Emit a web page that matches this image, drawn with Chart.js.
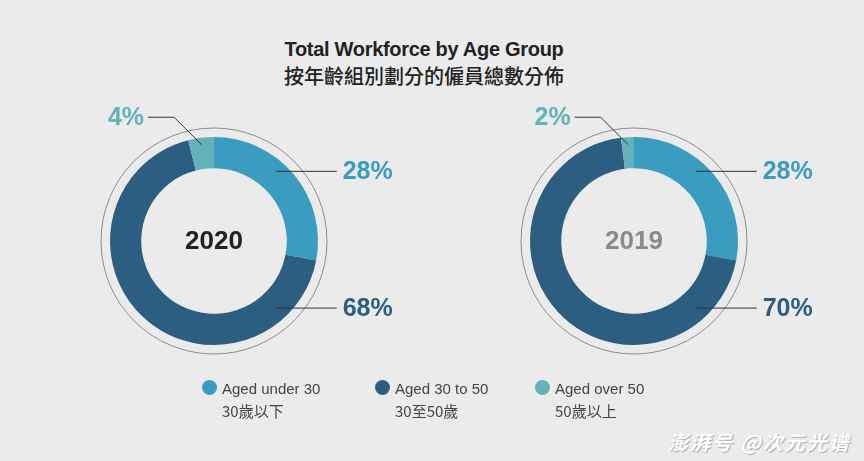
<!DOCTYPE html>
<html>
<head>
<meta charset="utf-8">
<script src="https://cdn.jsdelivr.net/npm/chart.js@4"></script>
<style>
  html, body { margin: 0; padding: 0; }
  body { width: 864px; height: 461px; background: #ebebeb; position: relative; overflow: hidden;
         font-family: "Liberation Sans", Arial, sans-serif; }
  .title { position: absolute; left: 0; width: 848px; text-align: center; color: #222; }
  #t1 { top: 38px; font-size: 20px; font-weight: bold; letter-spacing: -0.3px; }
  #t2 { top: 61px; font-size: 20px; font-family: "Noto Sans CJK TC", sans-serif; font-weight: 500; }
  canvas { position: absolute; }
  .leg { position: absolute; top: 378px; font-size: 15px; color: #444; line-height: 22px; }
  .leg .dot { position: absolute; left: -20px; top: 2px; width: 15px; height: 15px; border-radius: 50%; }
  .leg .zh { font-family: "Noto Sans CJK TC", sans-serif; font-size: 15px; }
  #wm { position: absolute; left: 668px; top: 427px; font-size: 20px; color: #fff;
        font-family: "Noto Sans CJK SC", sans-serif; font-weight: bold; font-style: italic;
        text-shadow: 1px 1px 1px #aaa; letter-spacing: 2px; }
</style>
</head>
<body>
<div class="title" id="t1">Total Workforce by Age Group</div>
<div class="title" id="t2">按年齡組別劃分的僱員總數分佈</div>
<canvas id="c2020" width="420" height="300" style="left:4px;top:91px"></canvas>
<canvas id="c2019" width="420" height="300" style="left:424px;top:91px"></canvas>
<div id="legend"></div>
<div id="wm">澎湃号 @次元光谱</div>
<script>
// categories
const groups = ['Aged under 30', 'Aged 30 to 50', 'Aged over 50'];
const groupsZh = ['30歲以下', '30至50歲', '50歲以上'];
const years = ['2020', '2019'];
// percentage share of workforce
const share2020 = [28, 68, 4];
const share2019 = [28, 70, 2];

const colors = ['#3b9cc2', '#2c5e81', '#62b2ba'];
const yearColors = ['#222222', '#8a8a8a'];

// legend
const legendX = [222, 395, 555];
const legend = document.getElementById('legend');
groups.forEach((g, i) => {
  const d = document.createElement('div');
  d.className = 'leg';
  d.style.left = legendX[i] + 'px';
  d.innerHTML = '<span class="dot" style="background:' + colors[i] + '"></span>' + g +
    '<br><span class="zh">' + groupsZh[i] + '</span>';
  legend.appendChild(d);
});

// outer ring, centre year and leader labels
const donutDeco = {
  id: 'donutDeco',
  afterDatasetsDraw(chart, args, opts) {
    const ctx = chart.ctx;
    const meta = chart.getDatasetMeta(0);
    const first = meta.data[0];
    const cx = first.x, cy = first.y, R = first.outerRadius;
    const values = chart.data.datasets[0].data;
    ctx.save();
    // thin outer circle
    ctx.beginPath();
    ctx.arc(cx, cy, R + 9, 0, Math.PI * 2);
    ctx.strokeStyle = '#8c8c8c';
    ctx.lineWidth = 1;
    ctx.stroke();
    // year in the middle
    ctx.fillStyle = opts.yearColor;
    ctx.font = 'bold 26px "Liberation Sans", Arial, sans-serif';
    ctx.textAlign = 'center';
    ctx.textBaseline = 'middle';
    ctx.fillText(opts.year, cx, cy + 1);

    ctx.font = 'bold 25px "Liberation Sans", Arial, sans-serif';
    ctx.textBaseline = 'middle';
    ctx.lineWidth = 1;
    meta.data.forEach((arc, i) => {
      const label = values[i] + '%';
      ctx.strokeStyle = '#333';
      ctx.fillStyle = colors[i];
      ctx.beginPath();
      if (i < 2) {
        const y = cy + (i === 0 ? -0.67 : 0.645) * R;
        const x0 = cx + 0.6 * R, x1 = cx + 1.18 * R;
        ctx.moveTo(x0, y);
        ctx.lineTo(x1, y);
        ctx.stroke();
        ctx.textAlign = 'left';
        ctx.fillText(label, x1 + 6, y + 1);
      } else {
        const mid = (arc.startAngle + arc.endAngle) / 2;
        const sx = cx + Math.cos(mid) * 0.93 * R, sy = cy + Math.sin(mid) * 0.93 * R;
        const ey = cy - 1.19 * R;
        const ex = sx - (sy - ey);
        ctx.moveTo(sx, sy);
        ctx.lineTo(ex, ey);
        ctx.lineTo(ex - 26, ey);
        ctx.stroke();
        ctx.textAlign = 'right';
        ctx.fillText(label, ex - 30, ey + 1);
      }
    });
    ctx.restore();
  }
};

function makeDonut(id, values, year, yearColor) {
  return new Chart(document.getElementById(id), {
    type: 'doughnut',
    data: {
      labels: groups,
      datasets: [{
        data: values,
        backgroundColor: colors,
        borderWidth: 0
      }]
    },
    options: {
      responsive: false,
      animation: false,
      devicePixelRatio: 1,
      cutout: '70%',
      layout: { padding: { left: 106, right: 106, top: 46, bottom: 46 } },
      plugins: {
        legend: { display: false },
        tooltip: { enabled: false },
        donutDeco: { year: year, yearColor: yearColor }
      }
    },
    plugins: [donutDeco]
  });
}

makeDonut('c2020', share2020, years[0], yearColors[0]);
makeDonut('c2019', share2019, years[1], yearColors[1]);
</script>
</body>
</html>
